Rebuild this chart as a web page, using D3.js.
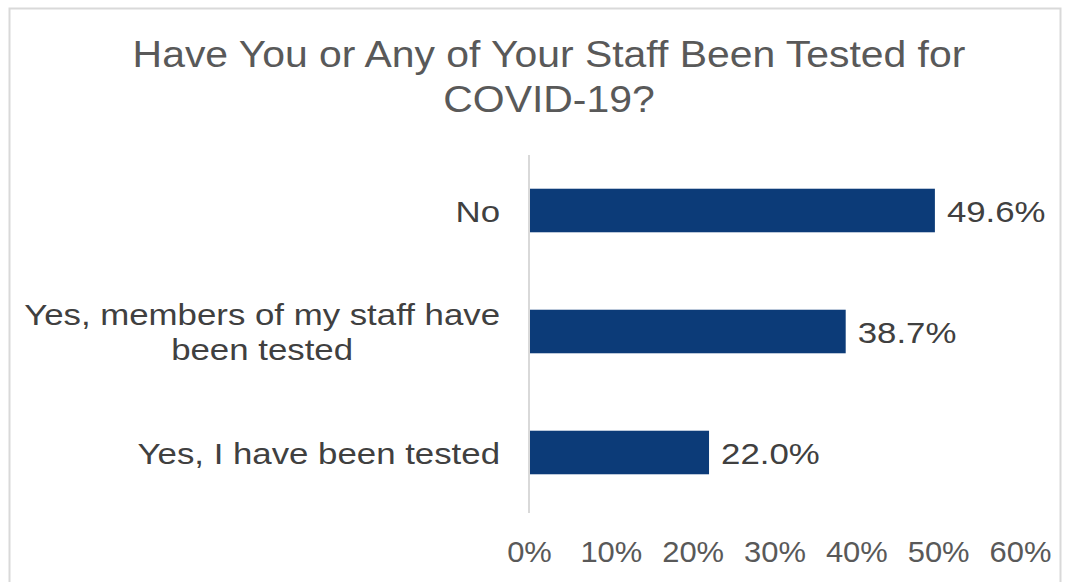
<!DOCTYPE html>
<html>
<head>
<meta charset="utf-8">
<script src="https://cdn.jsdelivr.net/npm/d3@7"></script>
<style>
  body { margin: 0; background: #fff; }
  text { font-family: "Liberation Sans", Arial, sans-serif; }
</style>
</head>
<body>
<div id="main"></div>
<script>
const width = 1072;
const height = 582;

const titleLines = ["Have You or Any of Your Staff Been Tested for", "COVID-19?"];
const categories = [
  ["No"],
  ["Yes, members of my staff have", "been tested"],
  ["Yes, I have been tested"],
];
const values = [49.6, 38.7, 22.0];
const tickValues = [0, 10, 20, 30, 40, 50, 60];

// the source image is a bit stretched sideways, so widen the text to match
const stretch = (sel, k) => {
  sel.each(function () {
    const w = this.getComputedTextLength();
    d3.select(this).attr("textLength", w * k).attr("lengthAdjust", "spacingAndGlyphs");
  });
};

const svg = d3.select("#main").append("svg").attr("width", width).attr("height", height);

// outer chart border (top, left, right only - bottom is cut off)
svg
  .append("path")
  .attr("d", "M9.5,582 V8.5 H1060.5 V582")
  .attr("fill", "none")
  .attr("stroke", "#d9d9d9")
  .attr("stroke-width", 2);

svg
  .selectAll(".title")
  .data(titleLines)
  .enter()
  .append("text")
  .attr("class", "title")
  .attr("x", 549)
  .attr("y", (d, i) => 67 + i * 45)
  .attr("text-anchor", "middle")
  .style("font-size", "37px")
  .style("fill", "#595959")
  .text((d) => d)
  .call(stretch, 1.105);

const x = d3.scaleLinear().domain([0, 60]).range([529, 1020]);
const y = d3
  .scaleBand()
  .domain(categories.map((c) => c.join(" ")))
  .range([150, 513])
  .paddingInner(0.64)
  .paddingOuter(0.32);

// axis labels along the bottom
const xAxis = svg
  .append("g")
  .attr("transform", "translate(0, 562)")
  .call(d3.axisBottom(x).tickValues(tickValues).tickFormat((d) => d + "%").tickSize(0));
xAxis.select(".domain").remove();
xAxis
  .selectAll("text")
  .attr("dy", 0)
  .attr("y", 0)
  .style("font-size", "30px")
  .style("font-family", "Liberation Sans, Arial, sans-serif")
  .style("fill", "#595959")
  .call(stretch, 1.03);

// vertical category axis line
svg
  .append("line")
  .attr("x1", x(0))
  .attr("x2", x(0))
  .attr("y1", 155)
  .attr("y2", 513)
  .attr("stroke", "#d9d9d9")
  .attr("stroke-width", 2);

const rows = svg
  .selectAll(".row")
  .data(categories)
  .enter()
  .append("g")
  .attr("class", "row");

rows
  .append("rect")
  .attr("x", x(0) + 1)
  .attr("y", (d) => y(d.join(" ")))
  .attr("width", (d, i) => x(values[i]) - x(0) - 1)
  .attr("height", y.bandwidth())
  .attr("fill", "#0c3b78");

rows
  .append("text")
  .attr("class", "val")
  .attr("x", (d, i) => x(values[i]) + 12)
  .attr("y", (d) => y(d.join(" ")) + y.bandwidth() / 2 + 11)
  .style("font-size", "30px")
  .style("fill", "#404040")
  .text((d, i) => values[i].toFixed(1) + "%");
svg.selectAll(".val").call(stretch, 1.16);

const labelRight = 500;
const k = 1.16;

rows.each(function (d) {
  const cy = y(d.join(" ")) + y.bandwidth() / 2;
  const lines = d.length;
  const texts = d3
    .select(this)
    .selectAll(".cat")
    .data(d)
    .enter()
    .append("text")
    .attr("class", "cat")
    .attr("x", labelRight)
    .attr("text-anchor", "end")
    .attr("y", (t, i) => cy + 11 + (i - (lines - 1) / 2) * 35)
    .style("font-size", "30px")
    .style("fill", "#404040")
    .text((t) => t);

  // multi-line labels are centred on the widest line
  if (lines > 1) {
    const w = d3.max(texts.nodes(), (n) => n.getComputedTextLength()) * k;
    texts.attr("text-anchor", "middle").attr("x", labelRight - w / 2);
  }
  texts.call(stretch, k);
});
</script>
</body>
</html>
